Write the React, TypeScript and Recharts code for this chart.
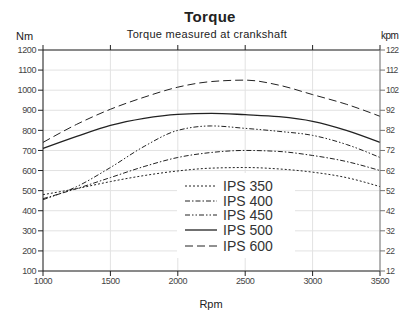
import { LineChart, Line, XAxis, YAxis, CartesianGrid, Legend } from "recharts";

const rpm = [1000, 1250, 1500, 1750, 2000, 2250, 2500, 2750, 3000, 3250, 3500];
const ips350 = [480, 510, 545, 575, 598, 612, 615, 608, 592, 565, 520];
const ips400 = [460, 510, 565, 620, 665, 690, 700, 695, 675, 645, 600];
const ips450 = [455, 520, 615, 720, 800, 822, 810, 795, 775, 730, 665];
const ips500 = [710, 770, 825, 860, 880, 885, 878, 868, 845, 800, 740];
const ips600 = [740, 830, 905, 965, 1015, 1043, 1050, 1025, 978, 930, 870];

const rpmTicks = [1000, 1500, 2000, 2500, 3000, 3500];
const nmTicks = [100, 200, 300, 400, 500, 600, 700, 800, 900, 1000, 1100, 1200];
const kpmTicks = [12, 22, 32, 42, 52, 62, 72, 82, 92, 102, 112, 122];

const series = [
  { key: "ips350", name: "IPS 350", dash: "2 2", width: 1 },
  { key: "ips400", name: "IPS 400", dash: "5 2 1.5 2", width: 1 },
  { key: "ips450", name: "IPS 450", dash: "5 2 1.5 2 1.5 2", width: 1 },
  { key: "ips500", name: "IPS 500", dash: undefined, width: 1.3 },
  { key: "ips600", name: "IPS 600", dash: "8 4", width: 1 },
];

const data = rpm.map((r, i) => ({
  rpm: r,
  ips350: ips350[i],
  ips400: ips400[i],
  ips450: ips450[i],
  ips500: ips500[i],
  ips600: ips600[i],
}));

const font = "'Liberation Sans', Arial, sans-serif";
const tickStyle = { fontSize: 9, fill: "#444", fontFamily: font, letterSpacing: -0.4 };

const LegendBox = () => (
  <div style={{ background: "#fff", padding: "6px 0 4px 8px", width: 110 }}>
    {series.map((s) => (
      <div key={s.key} style={{ display: "flex", alignItems: "center", height: s.key === "ips600" ? 17 : 14.5 }}>
        <svg width={32} height={10} style={{ marginRight: 6 }}>
          <line x1={0} y1={5} x2={32} y2={5} stroke="#222" strokeWidth={s.width} strokeDasharray={s.dash} />
        </svg>
        <span style={{ fontFamily: font, fontSize: 14, color: "#333", lineHeight: "14px" }}>{s.name}</span>
      </div>
    ))}
  </div>
);

const label = (text: string, style: any) => (
  <div style={{ position: "absolute", fontFamily: font, color: "#222", whiteSpace: "nowrap", ...style }}>{text}</div>
);

const NoLabel = () => <g />;

export default function App() {
  return (
    <div style={{ position: "absolute", left: 0, top: 0, width: 400, height: 311, background: "#fff", overflow: "hidden" }}>
      {label("Torque", { left: 0, width: 420, textAlign: "center", top: 8, fontSize: 15, fontWeight: "bold", letterSpacing: 0.3 })}
      {label("Torque measured at crankshaft", { left: 0, width: 414, textAlign: "center", top: 28, fontSize: 11, letterSpacing: 0.3 })}
      {label("Nm", { left: 16, top: 30, fontSize: 11 })}
      {label("kpm", { left: 381, top: 30, fontSize: 10, letterSpacing: -0.5 })}
      {label("Rpm", { left: 0, width: 422, textAlign: "center", top: 298, fontSize: 11 })}
      <LineChart width={400} height={311} data={data} margin={{ top: 45, right: 0, bottom: 0, left: 0 }}>
        <CartesianGrid xAxisId="b" yAxisId="l" stroke="#e2e2e2" vertical horizontal />
        <XAxis
          xAxisId="b"
          dataKey="rpm"
          type="number"
          domain={[1000, 3500]}
          ticks={rpmTicks}
          height={40}
          stroke="#222"
          tickSize={5}
          tick={tickStyle}
          tickLine={{ stroke: "#222" }}
        />
        <XAxis
          xAxisId="t"
          orientation="top"
          dataKey="rpm"
          type="number"
          domain={[1000, 3500]}
          ticks={rpmTicks}
          height={5}
          stroke="#222"
          tickSize={5}
          tick={<NoLabel />}
          tickLine={{ stroke: "#222" }}
        />
        <YAxis
          yAxisId="l"
          domain={[100, 1200]}
          ticks={nmTicks}
          width={43}
          stroke="#222"
          tickSize={5}
          tickMargin={2}
          tick={tickStyle}
          interval={0}
        />
        <YAxis
          yAxisId="r"
          orientation="right"
          type="number"
          domain={[12, 122]}
          ticks={kpmTicks}
          width={20}
          stroke="#777"
          tickSize={5}
          tickMargin={1}
          tick={{ ...tickStyle, fontSize: 8.5, letterSpacing: -0.6 }}
          interval={0}
          allowDataOverflow
        />
        {series.map((s) => (
          <Line
            key={s.key}
            xAxisId="b"
            yAxisId="l"
            type="monotone"
            dataKey={s.key}
            name={s.name}
            stroke="#222"
            strokeWidth={s.width}
            strokeDasharray={s.dash}
            dot={false}
            isAnimationActive={false}
          />
        ))}
        <Legend
          layout="vertical"
          align="center"
          verticalAlign="middle"
          content={<LegendBox />}
          wrapperStyle={{ left: 177, top: 173, width: 118 }}
        />
      </LineChart>
    </div>
  );
}
